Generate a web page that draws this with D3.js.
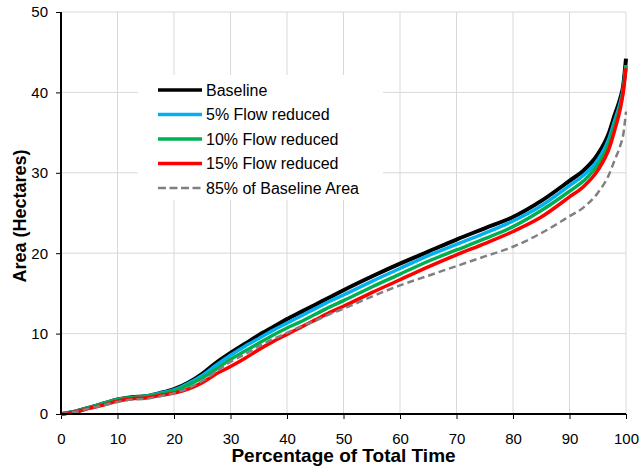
<!DOCTYPE html>
<html>
<head>
<meta charset="utf-8">
<script src="https://cdn.jsdelivr.net/npm/d3@7"></script>
<style>
html,body{margin:0;padding:0;background:#fff;}
svg{display:block;font-family:"Liberation Sans",Arial,sans-serif;}
</style>
</head>
<body>
<svg id="chart" width="644" height="472"></svg>
<script>
const xs =        [0, 2.5, 5, 7.5, 10, 12.5, 15, 17.5, 20, 22.5, 25, 27.5, 30, 32.5, 35, 37.5, 40, 42.5, 45, 47.5, 50, 55, 60, 65, 70, 75, 80, 85, 90, 92.5, 95, 97, 98, 99, 99.5, 100];
const baseline =  [0, 0.3, 0.8, 1.3, 1.8, 2.1, 2.2, 2.6, 3.1, 3.9, 5.0, 6.4, 7.6, 8.7, 9.8, 10.8, 11.8, 12.7, 13.6, 14.5, 15.4, 17.1, 18.7, 20.2, 21.7, 23.1, 24.5, 26.5, 29.0, 30.3, 32.3, 35.0, 37.2, 39.3, 40.8, 44.2];
const flow5 =     [0, 0.35, 0.8, 1.3, 1.8, 2.0, 2.2, 2.6, 3.0, 3.8, 4.8, 6.1, 7.3, 8.4, 9.4, 10.4, 11.3, 12.2, 13.1, 14.0, 14.8, 16.5, 18.1, 19.7, 21.1, 22.5, 24.0, 25.9, 28.4, 29.7, 31.6, 34.3, 36.5, 38.8, 40.4, 43.4];
const flow10 =    [0, 0.3, 0.8, 1.3, 1.8, 2.05, 2.2, 2.5, 2.9, 3.6, 4.5, 5.6, 6.8, 7.8, 8.8, 9.8, 10.7, 11.5, 12.4, 13.3, 14.1, 15.8, 17.4, 19.0, 20.4, 21.8, 23.3, 25.3, 27.7, 29.0, 31.0, 33.7, 36.0, 38.4, 40.2, 43.3];
const flow15 =    [0, 0.25, 0.7, 1.1, 1.6, 1.9, 2.0, 2.3, 2.6, 3.1, 3.9, 5.0, 5.9, 6.9, 8.0, 9.0, 9.9, 10.8, 11.7, 12.6, 13.4, 15.1, 16.7, 18.3, 19.8, 21.2, 22.7, 24.5, 27.0, 28.3, 30.3, 33.0, 35.3, 38.0, 40.0, 43.0];
const area85 =    [0, 0.25, 0.7, 1.1, 1.5, 1.8, 1.9, 2.2, 2.6, 3.2, 4.1, 5.3, 6.5, 7.4, 8.4, 9.3, 10.1, 10.9, 11.6, 12.4, 13.1, 14.6, 16.0, 17.2, 18.4, 19.6, 20.8, 22.5, 24.6, 25.7, 27.5, 29.8, 31.6, 33.4, 34.7, 37.6];
const xTicks = [0, 10, 20, 30, 40, 50, 60, 70, 80, 90, 100];
const yTicks = [0, 10, 20, 30, 40, 50];
const seriesNames = ["Baseline", "5% Flow reduced", "10% Flow reduced", "15% Flow reduced", "85% of Baseline Area"];
const seriesColors = ["#000000", "#00b0f0", "#00b050", "#ff0000", "#808080"];
const seriesValues = [baseline, flow5, flow10, flow15, area85];

const svg = d3.select("#chart");
const L = 61, R = 626, T = 12, B = 414;
const x = d3.scaleLinear().domain([0, 100]).range([L, R]);
const y = d3.scaleLinear().domain([0, 50]).range([B, T]);

// gridlines
const grid = svg.append("g");
grid.selectAll("line.v").data(xTicks.filter(d => d > 0)).join("line")
  .attr("x1", d => x(d)).attr("x2", d => x(d)).attr("y1", T).attr("y2", B)
  .attr("stroke", "#d9d9d9").attr("stroke-width", 1);
grid.selectAll("line.h").data(yTicks.filter(d => d > 0)).join("line")
  .attr("x1", L).attr("x2", R).attr("y1", d => y(d)).attr("y2", d => y(d))
  .attr("stroke", "#d9d9d9").attr("stroke-width", 1);

// legend background (covers gridlines)
svg.append("rect").attr("x", 138).attr("y", 75).attr("width", 245).attr("height", 125).attr("fill", "#fff");

// axes
const xAxis = svg.append("g").attr("transform", `translate(0,${B})`)
  .call(d3.axisBottom(x).tickValues(xTicks).tickSize(5).tickPadding(14).tickFormat(d3.format("d")));
const yAxis = svg.append("g").attr("transform", `translate(${L},0)`)
  .call(d3.axisLeft(y).tickValues(yTicks).tickSize(5).tickPadding(8).tickFormat(d3.format("d")));
[xAxis, yAxis].forEach(a => {
  a.select(".domain").remove();
  a.selectAll(".tick line").attr("stroke", "#000").attr("stroke-width", 1);
  a.selectAll(".tick text").attr("font-size", 15).attr("fill", "#000").attr("font-family", "Liberation Sans, Arial, sans-serif");
});
xAxis.selectAll(".tick text").attr("dy", "0.71em");

// lines
const line = d3.line().x((d, i) => x(xs[i])).y(d => y(d)).curve(d3.curveMonotoneX);
const widths = [4, 3.5, 3.5, 3.5, 2.5];
seriesValues.forEach((vals, k) => {
  svg.append("path").datum(vals).attr("d", line)
    .attr("fill", "none").attr("stroke", seriesColors[k]).attr("stroke-width", widths[k])
    .attr("stroke-linejoin", "round")
    .attr("stroke-dasharray", k === 4 ? "7,4" : null);
});

// axis lines
svg.append("line").attr("x1", L).attr("x2", L).attr("y1", T).attr("y2", B + 1).attr("stroke", "#000").attr("stroke-width", 2);
svg.append("line").attr("x1", L - 1).attr("x2", R).attr("y1", B).attr("y2", B).attr("stroke", "#000").attr("stroke-width", 2);

// legend
const leg = svg.append("g");
seriesNames.forEach((n, k) => {
  const yy = 90 + k * 24.5;
  leg.append("line").attr("x1", 158).attr("x2", 202).attr("y1", yy).attr("y2", yy)
    .attr("stroke", seriesColors[k]).attr("stroke-width", k === 4 ? 2.5 : 3.5)
    .attr("stroke-dasharray", k === 4 ? "8,3.5" : null);
  leg.append("text").attr("x", 206).attr("y", yy).attr("dy", "0.35em")
    .attr("font-size", 16).text(n);
});

// titles
svg.append("text").attr("x", 343.5).attr("y", 462).attr("text-anchor", "middle")
  .attr("font-size", 19).attr("font-weight", "bold").text("Percentage of Total Time");
svg.append("text").attr("transform", "translate(26,216) rotate(-90)").attr("text-anchor", "middle")
  .attr("font-size", 18).attr("font-weight", "bold").text("Area (Hectares)");
</script>
</body>
</html>
